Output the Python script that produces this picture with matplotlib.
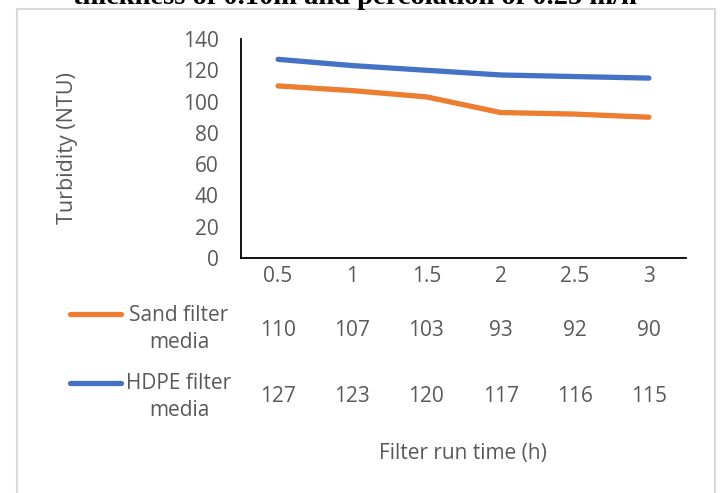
import matplotlib.pyplot as plt
from matplotlib.lines import Line2D
from matplotlib.patches import Rectangle

hours = ['0.5', '1', '1.5', '2', '2.5', '3']
sand = [110, 107, 103, 93, 92, 90]
hdpe = [127, 123, 120, 117, 116, 115]
series_names = ['Sand filter\nmedia', 'HDPE filter\nmedia']
title = 'thickness of 0.10m and percolation of 0.25 m/h'

W, H = 720, 493
grey = '#595959'
orange = '#ED7D31'
blue = '#4472C4'
fs = 15
plt.rcParams['font.family'] = ['Open Sans', 'DejaVu Sans']

fig = plt.figure(figsize=(W / 100, H / 100), dpi=100)

def fx(px):
    return px / W

def fy(py):
    return 1 - py / H

# outer chart border (light grey, runs off the bottom)
fig.patches.append(Rectangle((fx(17), fy(H + 5)), fx(715) - fx(17), fy(9) - fy(H + 5),
                             transform=fig.transFigure, fill=False,
                             edgecolor='#d9d9d9', lw=1.5))

# caption above the chart, cut off by the top edge like in the source
fig.text(fx(355), fy(4), title, ha='center', va='baseline', fontsize=20.5,
         fontweight='bold', family='Liberation Serif', color='black')

ax = fig.add_axes([fx(241), fy(258), fx(686) - fx(241), fy(39) - fy(258)])
x = list(range(len(hours)))
ax.plot(x, sand, color=orange, lw=3.8, solid_capstyle='round', solid_joinstyle='round')
ax.plot(x, hdpe, color=blue, lw=3.8, solid_capstyle='round', solid_joinstyle='round')
ax.set_xlim(-0.5, len(hours) - 0.5)
ax.set_ylim(0, 140)
ax.set_yticks(range(0, 141, 20))
ax.tick_params(axis='y', length=0, pad=16, labelsize=fs, labelcolor=grey)
ax.set_xticks([])
for s in ['top', 'right']:
    ax.spines[s].set_visible(False)
for s in ['left', 'bottom']:
    ax.spines[s].set_color('black')
    ax.spines[s].set_linewidth(1.3)

fig.text(fx(68), fy(148), 'Turbidity (NTU)', rotation=90, ha='center', va='center',
         fontsize=15.5, color=grey)

# data table below the axis
tr = ax.get_xaxis_transform()
def ay(py):
    return (258 - py) / (258 - 39)

for i, h in enumerate(hours):
    ax.text(i, ay(277), h, ha='center', va='center', fontsize=fs, color=grey,
            transform=tr, clip_on=False)
    ax.text(i, ay(330), str(sand[i]), ha='center', va='center', fontsize=fs,
            color=grey, transform=tr, clip_on=False)
    ax.text(i, ay(397), str(hdpe[i]), ha='center', va='center', fontsize=fs,
            color=grey, transform=tr, clip_on=False)

for name, col, ky, ty in [(series_names[0], orange, 314, 329),
                          (series_names[1], blue, 383, 397)]:
    fig.lines.append(Line2D([fx(70), fx(121)], [fy(ky), fy(ky)], color=col, lw=3.8,
                            solid_capstyle='round', transform=fig.transFigure))
    fig.text(fx(179), fy(ty), name, ha='center', va='center', fontsize=fs,
             color=grey, linespacing=1.4)

fig.text(fx(463), fy(453), 'Filter run time (h)', ha='center', va='center',
         fontsize=fs, color=grey)

fig.savefig('out.png', dpi=100)
